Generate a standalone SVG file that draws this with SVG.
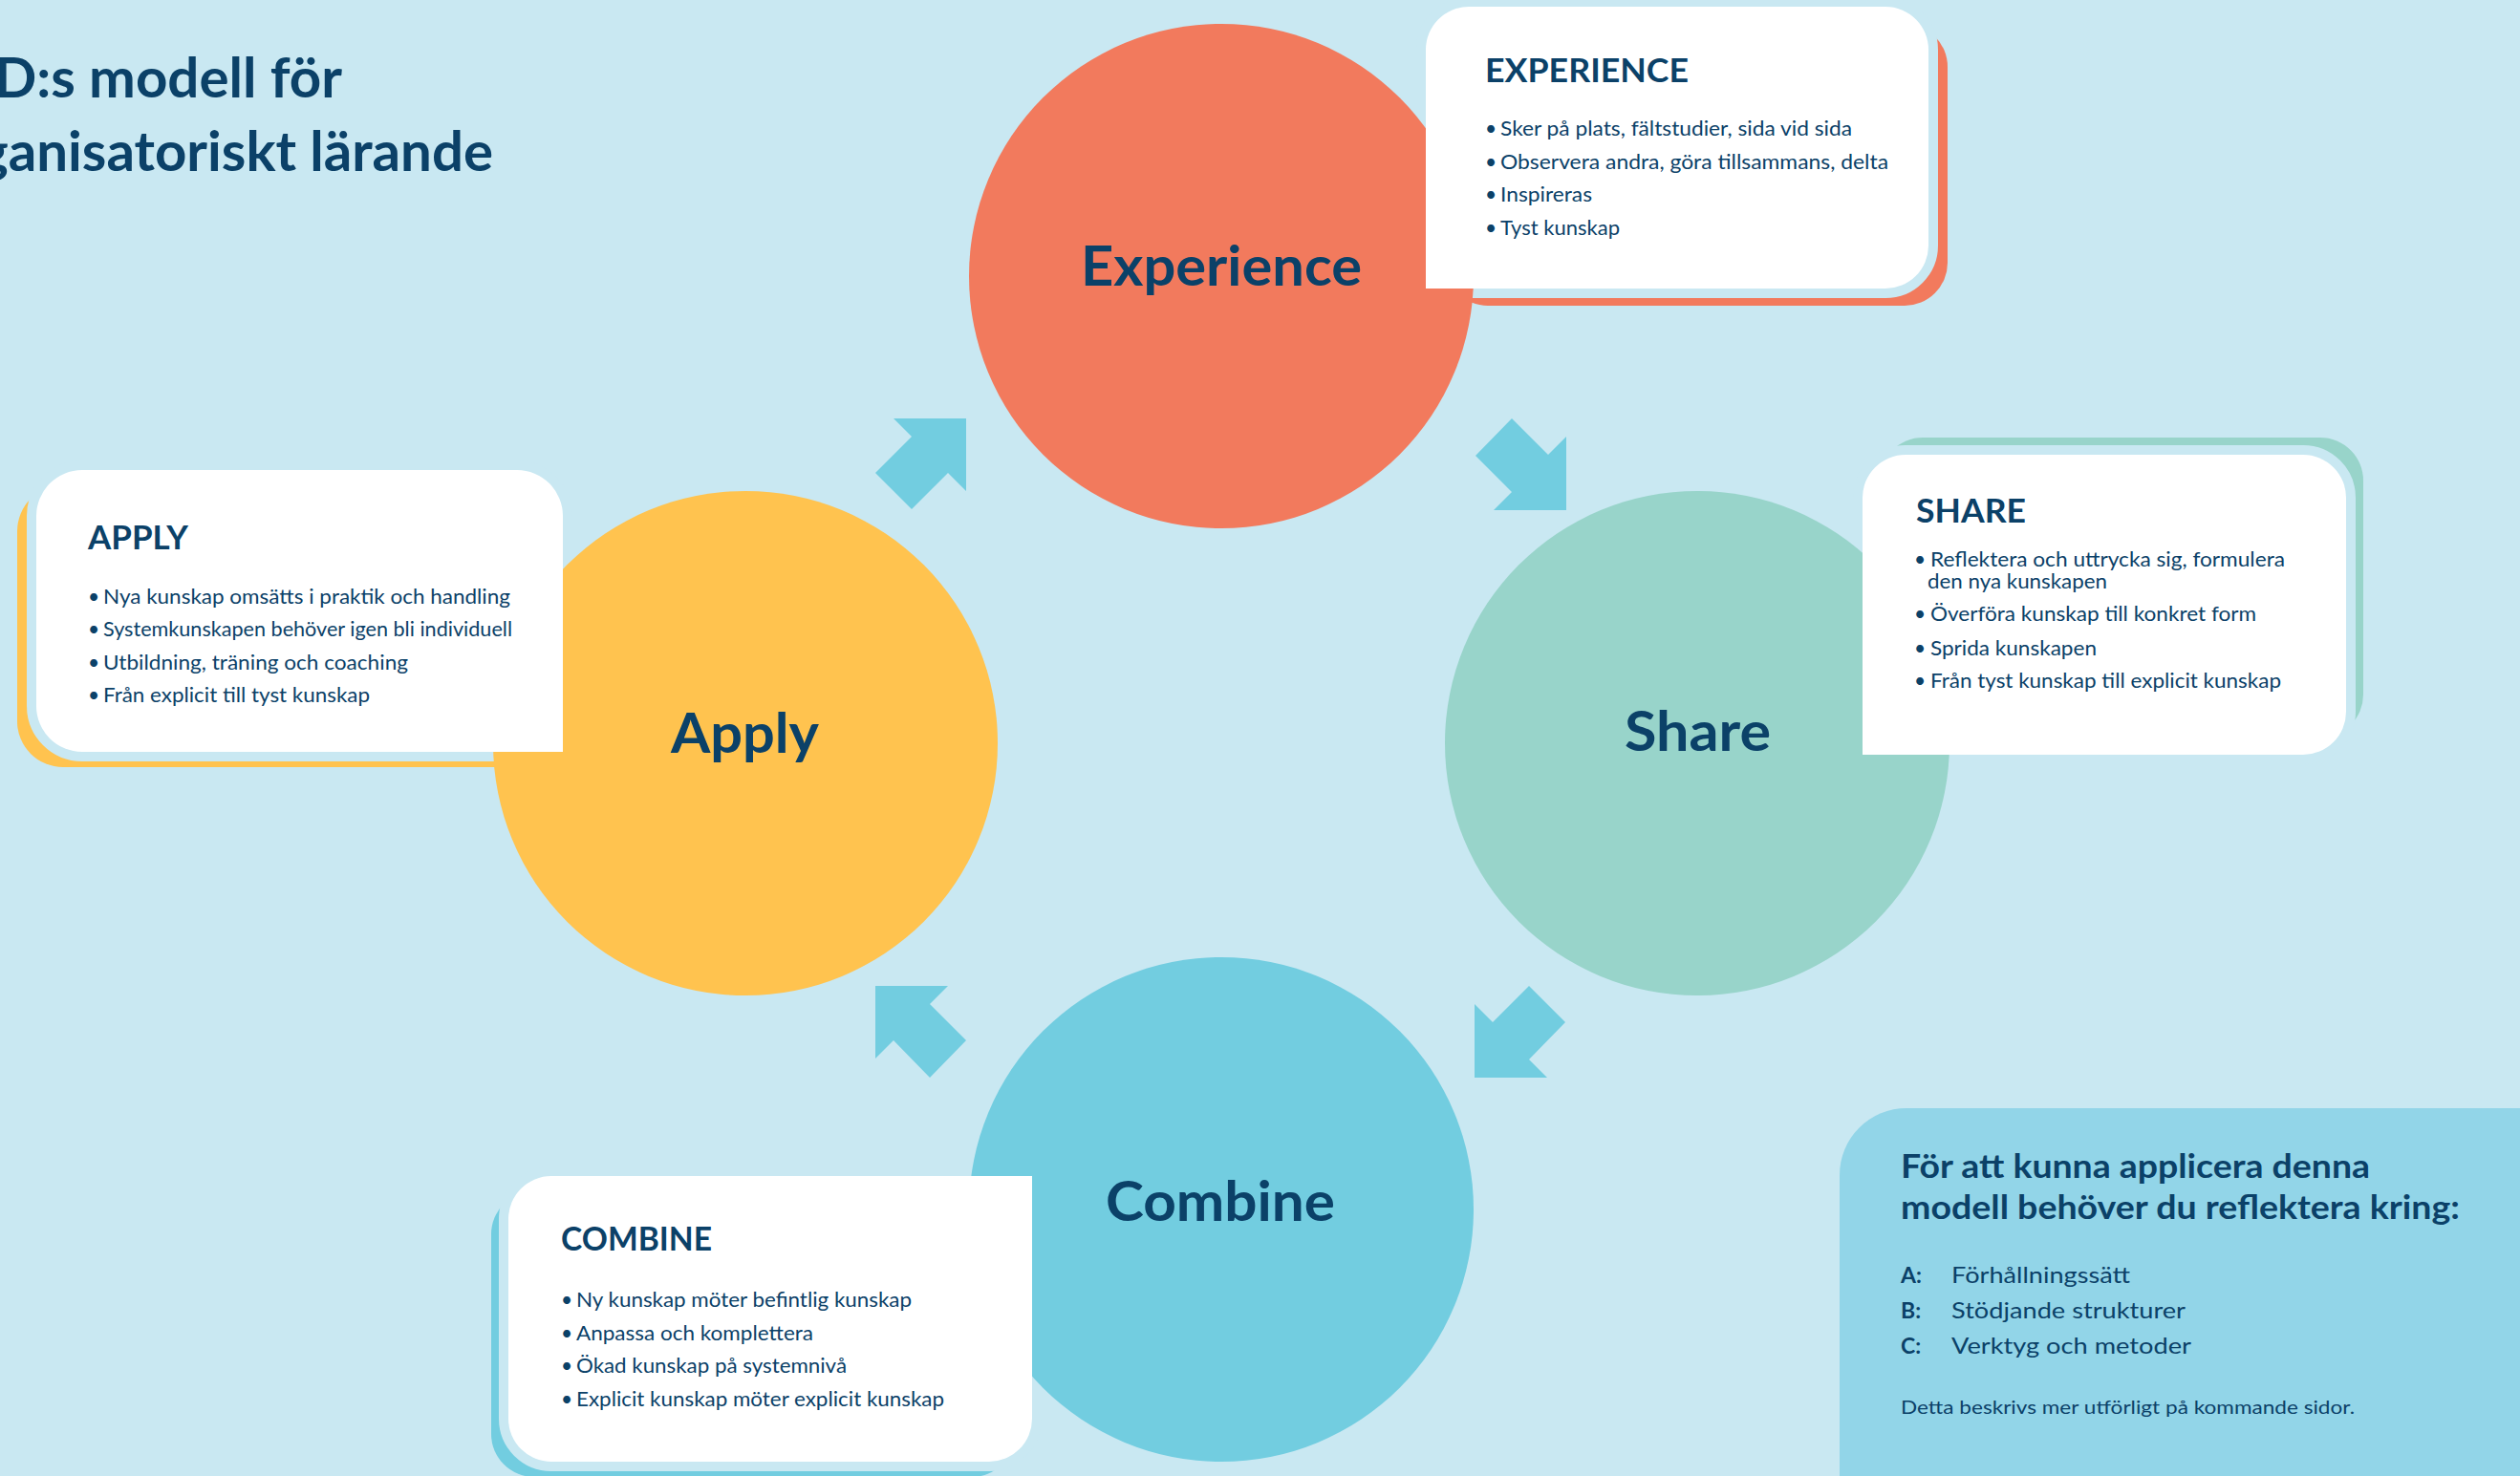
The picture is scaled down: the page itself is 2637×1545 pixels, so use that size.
<svg xmlns="http://www.w3.org/2000/svg" xmlns:xlink="http://www.w3.org/1999/xlink" width="2637" height="1545" viewBox="0 0 2637 1545">
  <style>
    text { font-family: 'Lato', 'Liberation Sans', sans-serif; fill: #0B4168; }
    .title { font-size: 58px; font-weight: 700; }
    .label { font-size: 57px; font-weight: 700; }
    .head { font-size: 34px; font-weight: 700; }
    .item { font-size: 21px; font-weight: 400; }
    .info-head { font-size: 35px; font-weight: 700; }
    .info-key { font-size: 23px; font-weight: 700; }
    .info-item { font-size: 23px; font-weight: 400; }
    .note { font-size: 19px; font-weight: 400; }
    .halo { fill: #C9E8F2; stroke: #C9E8F2; stroke-width: 20; }
    .card { fill: #FFFFFF; }
    .arrow { fill: #72CDE0; }
  </style>
  <defs>
    <!-- card outlines: the corner facing each circle is square -->
    <path id="card-experience" d="M1537,7 H1973 A45,45 0 0 1 2018,52 V257 A45,45 0 0 1 1973,302 H1492 V52 A45,45 0 0 1 1537,7 Z"/>
    <path id="card-apply" d="M86,492 H541 A48,48 0 0 1 589,540 V787 H86 A48,48 0 0 1 38,739 V540 A48,48 0 0 1 86,492 Z"/>
    <path id="card-share" d="M1994,476 H2410 A45,45 0 0 1 2455,521 V745 A45,45 0 0 1 2410,790 H1949 V521 A45,45 0 0 1 1994,476 Z"/>
    <path id="card-combine" d="M577,1231 H1080 V1485 A45,45 0 0 1 1035,1530 H577 A45,45 0 0 1 532,1485 V1276 A45,45 0 0 1 577,1231 Z"/>
  </defs>

  <!-- background -->
  <rect x="0" y="0" width="2637" height="1545" fill="#C9E8F2"/>

  <!-- title -->
  <g id="title">
    <text class="title" x="-6" y="102" textLength="364" lengthAdjust="spacingAndGlyphs">D:s modell för</text>
    <text class="title" x="-22" y="179" textLength="538" lengthAdjust="spacingAndGlyphs">ganisatoriskt lärande</text>
  </g>

  <!-- coloured offset shadows behind the cards -->
  <g id="card-shadows">
    <rect x="1512" y="25" width="526" height="295" rx="45" fill="#F27A5D"/>
    <rect x="18" y="508" width="551" height="295" rx="48" fill="#FFC34F"/>
    <rect x="1967" y="458" width="506" height="314" rx="45" fill="#98D4CA"/>
    <rect x="514" y="1247" width="548" height="299" rx="45" fill="#72CDE0"/>
  </g>

  <!-- gaps between cards and their shadows -->
  <g id="card-halos">
    <use xlink:href="#card-experience" class="halo"/>
    <use xlink:href="#card-apply" class="halo"/>
    <use xlink:href="#card-share" class="halo"/>
    <use xlink:href="#card-combine" class="halo"/>
  </g>

  <!-- connectors: cycle arrows -->
  <g id="connectors">
    <polygon id="arrow-apply-experience" class="arrow" points="935,438 1011,438 1011,514 992,495 954,533 916,495 954,457"/>
    <polygon id="arrow-experience-share" class="arrow" points="1582,438 1620,476 1639,457 1639,534 1563,534 1582,515 1544,477"/>
    <polygon id="arrow-share-combine" class="arrow" points="1600,1032 1638,1070 1600,1109 1619,1128 1543,1128 1543,1051 1562,1070"/>
    <polygon id="arrow-combine-apply" class="arrow" points="916,1032 992,1032 973,1051 1011,1089 973,1128 935,1089 916,1108"/>
  </g>

  <!-- Experience -->
  <g id="node-experience">
    <circle cx="1278" cy="289" r="264" fill="#F27A5D"/>
    <text class="label" x="1131" y="299" textLength="294" lengthAdjust="spacingAndGlyphs">Experience</text>
  </g>
  <g id="card-experience-box">
    <use xlink:href="#card-experience" class="card"/>
    <text class="head" x="1554" y="86" textLength="213" lengthAdjust="spacingAndGlyphs">EXPERIENCE</text>
    <text class="item" x="1554" y="142">•</text>
    <text class="item" x="1570" y="142" textLength="368" lengthAdjust="spacingAndGlyphs">Sker på plats, fältstudier, sida vid sida</text>
    <text class="item" x="1554" y="176.5">•</text>
    <text class="item" x="1570" y="176.5" textLength="406" lengthAdjust="spacingAndGlyphs">Observera andra, göra tillsammans, delta</text>
    <text class="item" x="1554" y="211">•</text>
    <text class="item" x="1570" y="211" textLength="96" lengthAdjust="spacingAndGlyphs">Inspireras</text>
    <text class="item" x="1554" y="245.5">•</text>
    <text class="item" x="1570" y="245.5" textLength="125" lengthAdjust="spacingAndGlyphs">Tyst kunskap</text>
  </g>

  <!-- Share -->
  <g id="node-share">
    <circle cx="1776" cy="778" r="264" fill="#98D4CA"/>
    <text class="label" x="1700" y="786" textLength="153" lengthAdjust="spacingAndGlyphs">Share</text>
  </g>
  <g id="card-share-box">
    <use xlink:href="#card-share" class="card"/>
    <text class="head" x="2005" y="547" textLength="115" lengthAdjust="spacingAndGlyphs">SHARE</text>
    <text class="item" x="2003" y="593">•</text>
    <text class="item" x="2020" y="593" textLength="371" lengthAdjust="spacingAndGlyphs">Reflektera och uttrycka sig, formulera</text>
    <text class="item" x="2017" y="616" textLength="188" lengthAdjust="spacingAndGlyphs">den nya kunskapen</text>
    <text class="item" x="2003" y="650">•</text>
    <text class="item" x="2020" y="650" textLength="341" lengthAdjust="spacingAndGlyphs">Överföra kunskap till konkret form</text>
    <text class="item" x="2003" y="685.5">•</text>
    <text class="item" x="2020" y="685.5" textLength="174" lengthAdjust="spacingAndGlyphs">Sprida kunskapen</text>
    <text class="item" x="2003" y="720">•</text>
    <text class="item" x="2020" y="720" textLength="367" lengthAdjust="spacingAndGlyphs">Från tyst kunskap till explicit kunskap</text>
  </g>

  <!-- Combine -->
  <g id="node-combine">
    <circle cx="1278" cy="1266" r="264" fill="#72CDE0"/>
    <text class="label" x="1157" y="1278" textLength="240" lengthAdjust="spacingAndGlyphs">Combine</text>
  </g>
  <g id="card-combine-box">
    <use xlink:href="#card-combine" class="card"/>
    <text class="head" x="587" y="1309" textLength="158" lengthAdjust="spacingAndGlyphs">COMBINE</text>
    <text class="item" x="587" y="1368">•</text>
    <text class="item" x="603" y="1368" textLength="351" lengthAdjust="spacingAndGlyphs">Ny kunskap möter befintlig kunskap</text>
    <text class="item" x="587" y="1402.5">•</text>
    <text class="item" x="603" y="1402.5" textLength="248" lengthAdjust="spacingAndGlyphs">Anpassa och komplettera</text>
    <text class="item" x="587" y="1437">•</text>
    <text class="item" x="603" y="1437" textLength="283" lengthAdjust="spacingAndGlyphs">Ökad kunskap på systemnivå</text>
    <text class="item" x="587" y="1471.5">•</text>
    <text class="item" x="603" y="1471.5" textLength="385" lengthAdjust="spacingAndGlyphs">Explicit kunskap möter explicit kunskap</text>
  </g>

  <!-- Apply -->
  <g id="node-apply">
    <circle cx="780" cy="778" r="264" fill="#FFC34F"/>
    <text class="label" x="702" y="788" textLength="155" lengthAdjust="spacingAndGlyphs">Apply</text>
  </g>
  <g id="card-apply-box">
    <use xlink:href="#card-apply" class="card"/>
    <text class="head" x="92" y="575" textLength="105" lengthAdjust="spacingAndGlyphs">APPLY</text>
    <text class="item" x="92" y="631.5">•</text>
    <text class="item" x="108" y="631.5" textLength="426" lengthAdjust="spacingAndGlyphs">Nya kunskap omsätts i praktik och handling</text>
    <text class="item" x="92" y="666">•</text>
    <text class="item" x="108" y="666" textLength="428" lengthAdjust="spacingAndGlyphs">Systemkunskapen behöver igen bli individuell</text>
    <text class="item" x="92" y="700.5">•</text>
    <text class="item" x="108" y="700.5" textLength="319" lengthAdjust="spacingAndGlyphs">Utbildning, träning och coaching</text>
    <text class="item" x="92" y="735">•</text>
    <text class="item" x="108" y="735" textLength="279" lengthAdjust="spacingAndGlyphs">Från explicit till tyst kunskap</text>
  </g>

  <!-- reflection panel -->
  <g id="info-panel">
    <path d="M1925,1230 A70,70 0 0 1 1995,1160 H2637 V1545 H1925 Z" fill="#92D5E8"/>
    <text class="info-head" x="1989" y="1233" textLength="491" lengthAdjust="spacingAndGlyphs">För att kunna applicera denna</text>
    <text class="info-head" x="1989" y="1276" textLength="585" lengthAdjust="spacingAndGlyphs">modell behöver du reflektera kring:</text>
    <text class="info-key" x="1989" y="1343">A:</text>
    <text class="info-item" x="2042" y="1343" textLength="187" lengthAdjust="spacingAndGlyphs">Förhållningssätt</text>
    <text class="info-key" x="1989" y="1380">B:</text>
    <text class="info-item" x="2042" y="1380" textLength="245" lengthAdjust="spacingAndGlyphs">Stödjande strukturer</text>
    <text class="info-key" x="1989" y="1417">C:</text>
    <text class="info-item" x="2042" y="1417" textLength="251" lengthAdjust="spacingAndGlyphs">Verktyg och metoder</text>
    <text class="note" x="1989" y="1480" textLength="475" lengthAdjust="spacingAndGlyphs">Detta beskrivs mer utförligt på kommande sidor.</text>
  </g>
</svg>
